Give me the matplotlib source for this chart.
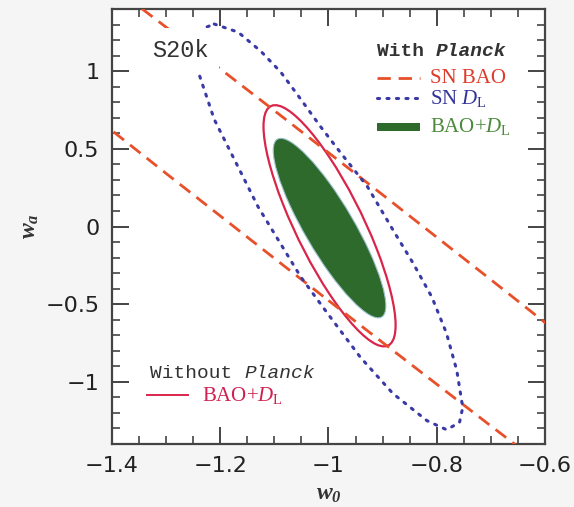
import matplotlib
matplotlib.use("Agg")
import matplotlib.pyplot as plt
from matplotlib.patches import Circle, Rectangle
from matplotlib.transforms import Affine2D
from matplotlib.ticker import MultipleLocator, FixedLocator

plt.rcParams['mathtext.fontset'] = 'custom'
plt.rcParams['mathtext.rm'] = 'Liberation Serif'
plt.rcParams['mathtext.it'] = 'Liberation Serif:italic'
plt.rcParams['mathtext.bf'] = 'Liberation Serif:bold:italic'

# ---- data -------------------------------------------------------------
# elliptical contours: centre, half extent in w0, wa offset at the w0 extremes,
# wa half height at the centre w0
ell_names = ['SN BAO (with Planck)', 'BAO+D_L (with Planck)', 'BAO+D_L (without Planck)']
ell_w0 = [-1.000, -0.998, -0.998]
ell_wa = [0.000, -0.010, 0.005]
ell_half_w0 = [2.00, 0.104, 0.122]
ell_tilt_wa = [-5.42, -0.50, -0.64]
ell_half_wa = [0.476, 0.29, 0.44]

# SN D_L (with Planck) contour
snDL_w0 = [-1.211, -1.167, -1.125, -1.088, -1.051, -1.015, -0.978, -0.928, -0.881,
           -0.844, -0.809, -0.782, -0.763, -0.752, -0.758, -0.782, -0.818, -0.881,
           -0.941, -1.002, -1.051, -1.130, -1.171, -1.211, -1.244, -1.244, -1.235, -1.211]
snDL_wa = [1.304, 1.252, 1.129, 0.994, 0.819, 0.645, 0.477, 0.257, -0.021,
           -0.234, -0.454, -0.687, -0.926, -1.165, -1.262, -1.308, -1.250, -1.075,
           -0.842, -0.558, -0.325, 0.127, 0.412, 0.690, 1.032, 1.174, 1.271, 1.304]

x_ticks = [-1.4, -1.2, -1.0, -0.8, -0.6]
x_labels = ['\u22121.4', '\u22121.2', '\u22121', '\u22120.8', '\u22120.6']
y_ticks = [-1.0, -0.5, 0.0, 0.5, 1.0]
y_labels = ['\u22121', '\u22120.5', '0', '0.5', '1']

# ---- styling ----------------------------------------------------------
c_dash = '#e8502a'
c_dot = '#3a3aa6'
c_green = '#2d6a2c'
c_solid = '#d9254a'
dash_style = (0, (4.8, 2.8))
dot_style = (0, (0.7, 2.4))

fig = plt.figure(figsize=(5.74, 5.07), dpi=100)
fig.patch.set_facecolor('#f5f5f5')
ax = fig.add_axes([0.195, 0.1243, 0.7545, 0.8577])
ax.set_xlim(-1.4, -0.6)
ax.set_ylim(-1.4, 1.4)

def ellipse(i, **kw):
    tr = Affine2D().from_values(ell_half_w0[i], ell_tilt_wa[i], 0.0, ell_half_wa[i],
                                ell_w0[i], ell_wa[i])
    p = Circle((0, 0), 1.0, transform=tr + ax.transData, **kw)
    ax.add_patch(p)
    return p

ellipse(1, facecolor=c_green, edgecolor='#9cc0cc', lw=0.8, zorder=2)
ellipse(2, fill=False, edgecolor=c_solid, lw=1.6, zorder=3)
ellipse(0, fill=False, edgecolor=c_dash, lw=2.0, linestyle=dash_style, zorder=4)
ax.plot(snDL_w0, snDL_wa, color=c_dot, lw=2.2, linestyle=dot_style,
        dash_capstyle='round', zorder=4)

# ticks
ax.xaxis.set_major_locator(FixedLocator(x_ticks))
ax.set_xticklabels(x_labels)
ax.yaxis.set_major_locator(FixedLocator(y_ticks))
ax.set_yticklabels(y_labels)
ax.xaxis.set_minor_locator(MultipleLocator(0.05))
ax.yaxis.set_minor_locator(MultipleLocator(0.1))
ax.tick_params(which='both', direction='in', top=True, right=True, color='#444444')
ax.tick_params(which='major', length=12, width=1.4, labelsize=16, pad=9,
               labelcolor='#222222')
ax.tick_params(which='minor', length=6, width=1.2)
for lab in ax.get_xticklabels() + ax.get_yticklabels():
    lab.set_family('DejaVu Sans')
for s in ax.spines.values():
    s.set_linewidth(1.6)
    s.set_color('#444444')

ax.set_xlabel(r'$\mathbf{w_0}$', fontsize=17, labelpad=3, color='#333333')
ax.set_ylabel(r'$\mathbf{w_a}$', fontsize=17, labelpad=3, color='#333333')

# label
ax.text(0.157, 0.906, 'S20k', transform=ax.transAxes, ha='center', va='center',
        family='Liberation Mono', fontsize=17, color='#333333', zorder=6,
        bbox=dict(boxstyle='square,pad=0.45', fc='white', ec='none'))

# legend "With Planck"
t1 = ax.text(0.612, 0.903, 'With ', transform=ax.transAxes, ha='left', va='center',
             family='Liberation Mono', fontweight='bold', fontsize=14, color='#333333')
ax.annotate('Planck', xy=(1, 0.5), xycoords=t1, ha='left', va='center',
            family='Liberation Mono', fontweight='bold', fontstyle='italic',
            fontsize=14, color='#333333')
ax.plot([0.612, 0.711], [0.841, 0.841], transform=ax.transAxes, color=c_dash,
        lw=2.0, linestyle=dash_style)
ax.text(0.734, 0.841, 'SN BAO', transform=ax.transAxes, ha='left', va='center',
        family='Liberation Serif', fontsize=15, color='#e03a2a')
ax.plot([0.612, 0.711], [0.795, 0.795], transform=ax.transAxes, color=c_dot,
        lw=2.2, linestyle=dot_style, dash_capstyle='round')
ax.text(0.734, 0.795, r'SN $D_{\mathrm{L}}$', transform=ax.transAxes, ha='left',
        va='center', family='Liberation Serif', fontsize=15, color='#333399')
ax.add_patch(Rectangle((0.612, 0.720), 0.099, 0.017, transform=ax.transAxes,
                       facecolor=c_green, edgecolor='none'))
ax.text(0.734, 0.729, r'BAO+$D_{\mathrm{L}}$', transform=ax.transAxes, ha='left',
        va='center', family='Liberation Serif', fontsize=15, color='#4a8a3a')

# legend "Without Planck"
t2 = ax.text(0.088, 0.163, 'Without ', transform=ax.transAxes, ha='left', va='center',
             family='Liberation Mono', fontsize=14, color='#333333')
ax.annotate('Planck', xy=(1, 0.5), xycoords=t2, ha='left', va='center',
            family='Liberation Mono', fontstyle='italic', fontsize=14, color='#333333')
ax.plot([0.081, 0.1755], [0.1126, 0.1126], transform=ax.transAxes, color=c_solid, lw=1.4)
ax.text(0.208, 0.1126, r'BAO+$D_{\mathrm{L}}$', transform=ax.transAxes, ha='left',
        va='center', family='Liberation Serif', fontsize=15, color='#d02050')

fig.savefig('out.png', dpi=100, facecolor=fig.get_facecolor())
